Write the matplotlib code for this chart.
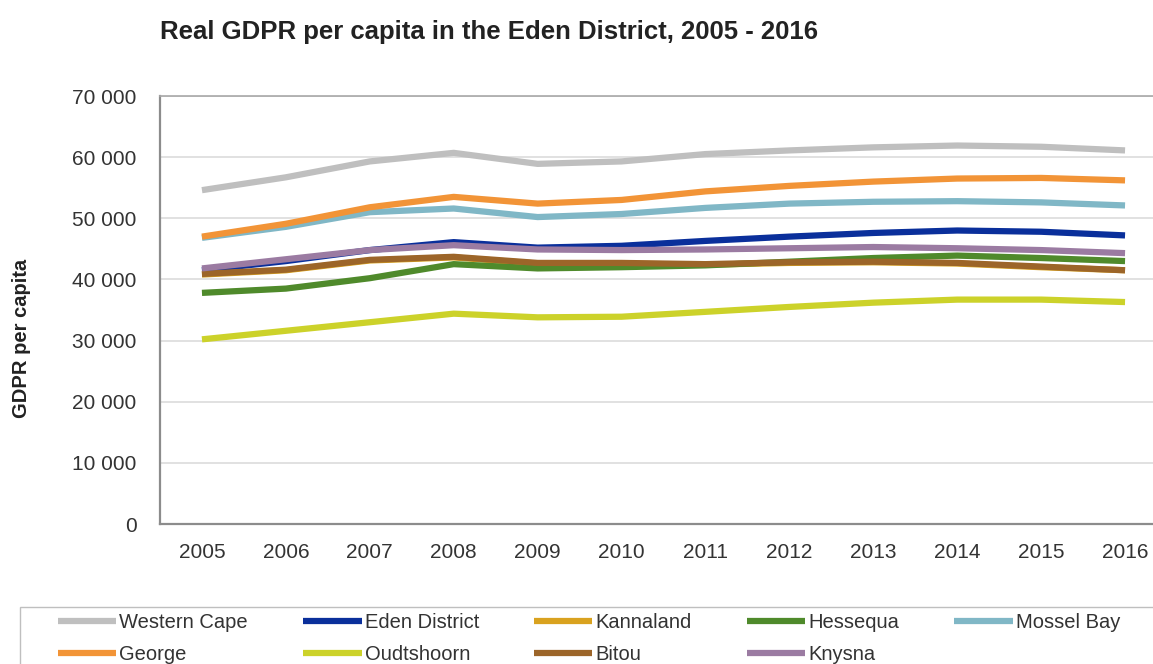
"""Real GDPR per capita in the Eden District, 2005 - 2016 (line chart)."""

import matplotlib
matplotlib.use('Agg')
import matplotlib.pyplot as plt
from matplotlib.patches import Rectangle
from matplotlib.ticker import FuncFormatter, MultipleLocator

plt.rcParams.update({
    'font.family': ['Liberation Sans', 'DejaVu Sans'],
    'text.color': '#333333',
    'xtick.color': '#333333',
    'ytick.color': '#333333',
})

YEARS = [2005, 2006, 2007, 2008, 2009, 2010, 2011, 2012, 2013, 2014, 2015, 2016]

# values (R per capita)
western_cape = [54600, 56700, 59300, 60700, 58900, 59300, 60500, 61100, 61600, 61900, 61700, 61100]
eden_district = [41500, 43000, 44800, 46100, 45200, 45500, 46300, 47000, 47600, 48000, 47800, 47200]
kannaland = [40800, 41500, 43100, 43600, 42600, 42600, 42400, 42700, 42800, 42600, 42000, 41500]
hessequa = [37800, 38500, 40200, 42500, 41800, 42000, 42300, 42900, 43500, 43900, 43500, 43000]
mossel_bay = [46800, 48600, 51000, 51600, 50200, 50700, 51700, 52400, 52700, 52800, 52600, 52100]
george = [47000, 49100, 51800, 53500, 52400, 53000, 54400, 55300, 56000, 56500, 56600, 56200]
oudtshoorn = [30200, 31600, 33000, 34400, 33800, 33900, 34700, 35500, 36200, 36700, 36700, 36300]
bitou = [40900, 41600, 43200, 43700, 42700, 42700, 42500, 42800, 42900, 42700, 42100, 41500]
knysna = [41800, 43300, 44800, 45600, 44900, 44800, 44900, 45100, 45300, 45100, 44800, 44300]

SERIES = [
    ('Western Cape', western_cape, '#BFBFBF'),
    ('Eden District', eden_district, '#0A2F9B'),
    ('Kannaland', kannaland, '#D9A21F'),
    ('Hessequa', hessequa, '#4F8A2B'),
    ('Mossel Bay', mossel_bay, '#80B7C6'),
    ('George', george, '#F29437'),
    ('Oudtshoorn', oudtshoorn, '#CCD22A'),
    ('Bitou', bitou, '#9C6529'),
    ('Knysna', knysna, '#9B7BA2'),
]

# legend is filled column by column; this gives the two rows in the picture
LEGEND_ORDER = ['Western Cape', 'George', 'Eden District', 'Oudtshoorn',
                'Kannaland', 'Bitou', 'Hessequa', 'Knysna', 'Mossel Bay']


def space_thousands(v, _pos):
    return f'{int(v):,}'.replace(',', ' ')


def main():
    W, H = 1153, 664
    fig = plt.figure(figsize=(W / 100, H / 100), dpi=100)
    ax = fig.add_axes([160 / W, 1 - 524 / H, 1007 / W, 428 / H])

    x = list(range(len(YEARS)))
    handles = {}
    for name, vals, color in SERIES:
        line, = ax.plot(x, vals, color=color, lw=4.5, solid_capstyle='butt',
                        solid_joinstyle='round', label=name)
        handles[name] = line

    ax.set_xlim(-0.5, len(YEARS) - 0.5)
    ax.set_ylim(0, 70000)
    ax.yaxis.set_major_locator(MultipleLocator(10000))
    ax.yaxis.set_major_formatter(FuncFormatter(space_thousands))
    ax.set_xticks(x)
    ax.set_xticklabels([str(y) for y in YEARS])
    ax.tick_params(axis='both', length=0, labelsize=15)
    ax.tick_params(axis='y', pad=17)
    ax.tick_params(axis='x', pad=14)

    ax.grid(axis='y', color='#DCDCDC', lw=1.2)
    ax.set_axisbelow(True)
    for side in ('left', 'bottom'):
        ax.spines[side].set_color('#8C8C8C')
        ax.spines[side].set_linewidth(1.6)
    ax.spines['top'].set_color('#A8A8A8')
    ax.spines['top'].set_linewidth(1.2)
    ax.spines['right'].set_visible(False)

    fig.text(160 / W, 1 - 32 / H,
             'Real GDPR per capita in the Eden District, 2005 - 2016',
             fontsize=18.5, fontweight='bold', ha='left', va='center', color='#222222')
    fig.text(22 / W, 1 - 338 / H, 'GDPR per capita', rotation=90,
             fontsize=14.5, fontweight='bold', ha='center', va='center', color='#222222')

    # legend box
    fig.patches.append(Rectangle((20 / W, -0.02), 1.05, 1 - 607 / H + 0.02,
                                 transform=fig.transFigure, fill=False,
                                 edgecolor='#BFBFBF', lw=1.0))
    fig.legend([handles[n] for n in LEGEND_ORDER], LEGEND_ORDER,
               ncol=5, loc='upper left', mode='expand',
               bbox_to_anchor=(58 / W, 1 - 614 / H, (1120 - 58) / W, 0.001),
               fontsize=14.5, handlelength=2.9, handletextpad=0.15,
               columnspacing=1.0, labelspacing=0.62,
               borderpad=0, borderaxespad=0, frameon=False)

    fig.savefig('out.png', dpi=100)


if __name__ == '__main__':
    main()
